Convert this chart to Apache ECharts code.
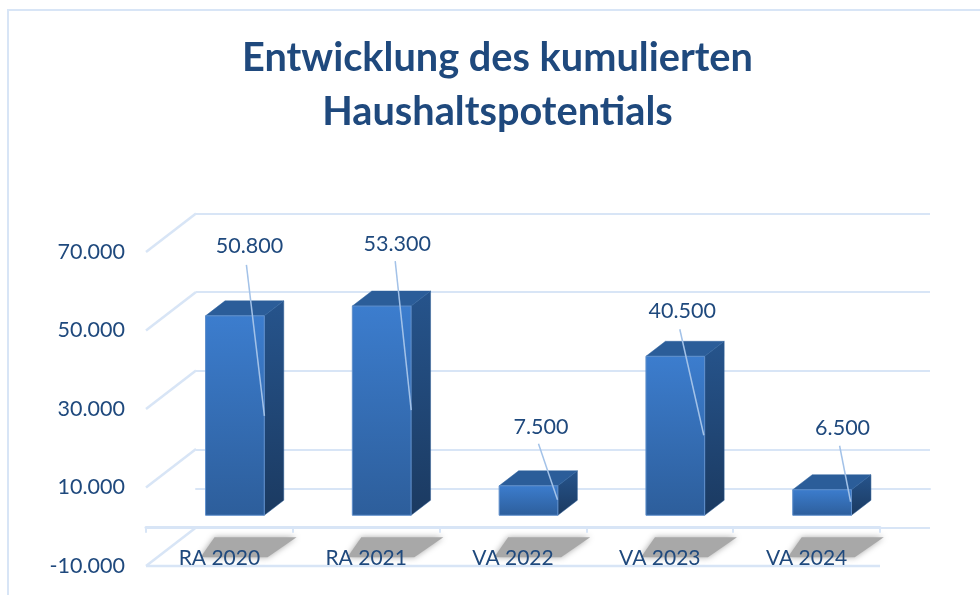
<!DOCTYPE html>
<html>
<head>
<meta charset="utf-8">
<style>
  html, body { margin: 0; padding: 0; background: #fff; }
  #chart { width: 980px; height: 595px; }
</style>
<script src="https://cdn.jsdelivr.net/npm/echarts@6/dist/echarts.min.js"></script>
</head>
<body>
<div id="chart"></div>
<script>
const titleText = 'Entwicklung des kumulierten\nHaushaltspotentials'
const categories = ['RA 2020', 'RA 2021', 'VA 2022', 'VA 2023', 'VA 2024']
const values = [50800, 53300, 7500, 40500, 6500]
const yTicks = [-10000, 10000, 30000, 50000, 70000]

// where each data label and its leader sit, relative to the bar's top centre
const labelOffsets = [[14.5, -70], [15.5, -62], [12.5, -59], [7, -45], [20.5, -62]]
const leaderStarts = [[11.5, -51], [13.5, -45], [10, -42], [4.5, -27], [17.5, -44]]
const leaderEnds = [[29.5, 100], [29.5, 104], [29, 14], [28.5, 79], [28.5, 12]]

const FONT = 'Lato'
const TEXT_COLOR = '#1f497d'
const LINE_COLOR = '#d8e5f6'

// the back wall sits this far behind the front plane
const WALL_DX = 50
const WALL_DY = -38.5
// the bars sit this far behind the front plane
const BAR_DX = 15.5
const BAR_DY = -11.5
const BAR_DEPTH_X = 19.5
const BAR_DEPTH_Y = -15

const chart = echarts.init(document.getElementById('chart'))

const fmt = v => String(v).replace(/\B(?=(\d{3})+$)/g, '.')
const vGrad = (a, b) => new echarts.graphic.LinearGradient(0, 0, 0, 1, [
  { offset: 0, color: a },
  { offset: 1, color: b }
])

function renderWall(params, api) {
  const v = api.value(1)
  const sys = params.coordSys
  const y = api.coord([0, v])[1]
  const style = { stroke: LINE_COLOR, lineWidth: 2.5, fill: null }
  const children = [{
    type: 'line',
    shape: { x1: sys.x, y1: y, x2: sys.x + WALL_DX, y2: y + WALL_DY },
    style
  }]
  if (v === yTicks[0]) {
    children.push({
      type: 'line',
      shape: { x1: sys.x, y1: y, x2: sys.x + sys.width, y2: y },
      style
    })
  }
  return { type: 'group', children }
}

function renderShadow(params, api) {
  const c = api.coord([api.value(0), 0])
  const w = api.size([1, 0])[0] * 0.4
  const x = c[0] + BAR_DX - w / 2
  const y = c[1] + BAR_DY
  return {
    type: 'polygon',
    shape: {
      points: [
        [x + 9, y + 22],
        [x + 91, y + 22],
        [x + 62, y + 42],
        [x - 5, y + 42]
      ]
    },
    style: { fill: '#a8a8a8', shadowBlur: 6, shadowColor: '#a8a8a8' }
  }
}

function renderBar(params, api) {
  const i = api.value(0)
  const top = api.coord([i, api.value(1)])
  const base = api.coord([i, 0])
  const w = api.size([1, 0])[0] * 0.4
  const cx = top[0] + BAR_DX
  const x0 = cx - w / 2
  const x1 = cx + w / 2
  const y0 = top[1] + BAR_DY
  const y1 = base[1] + BAR_DY
  const dx = BAR_DEPTH_X
  const dy = BAR_DEPTH_Y
  const off = labelOffsets[i]
  const from = leaderStarts[i]
  const to = leaderEnds[i]
  return {
    type: 'group',
    children: [
      {
        type: 'polygon',
        shape: { points: [[x1, y0], [x1 + dx, y0 + dy], [x1 + dx, y1 + dy], [x1, y1]] },
        style: { fill: vGrad('#26548c', '#1b3a61'), stroke: '#2d5c95', lineWidth: 0.5 }
      },
      {
        type: 'polygon',
        shape: { points: [[x0, y0], [x0 + dx, y0 + dy], [x1 + dx, y0 + dy], [x1, y0]] },
        style: { fill: '#2b5d99', stroke: '#2f639f', lineWidth: 0.5 }
      },
      {
        type: 'rect',
        shape: { x: x0, y: y0, width: w, height: y1 - y0 },
        style: { fill: vGrad('#3c7dce', '#2d5e9b'), stroke: '#5f8fcb', lineWidth: 1 }
      },
      {
        type: 'line',
        shape: { x1: cx + from[0], y1: y0 + from[1], x2: cx + to[0], y2: y0 + to[1] },
        style: { stroke: '#a3c2e8', lineWidth: 1.5, fill: null }
      },
      {
        type: 'text',
        x: cx + off[0],
        y: y0 + off[1],
        style: {
          text: fmt(api.value(1)),
          fill: TEXT_COLOR,
          font: '21.5px ' + FONT,
          align: 'center',
          verticalAlign: 'middle'
        }
      }
    ]
  }
}

const option = {
  animation: false,
  backgroundColor: '#ffffff',
  textStyle: { fontFamily: FONT },
  title: {
    text: titleText,
    left: 492.5,
    top: 26,
    textAlign: 'center',
    textStyle: {
      color: TEXT_COLOR,
      fontFamily: FONT,
      fontSize: 39.7,
      fontWeight: 'bold',
      lineHeight: 54
    }
  },
  graphic: [{
    type: 'rect',
    z: -10,
    shape: { x: 8, y: 10, width: 1000, height: 640 },
    style: { fill: null, stroke: LINE_COLOR, lineWidth: 2 }
  }],
  grid: [
    // front plane, carries the labels
    { left: 146, right: 100, top: 252, bottom: 29, outerBoundsMode: 'none' },
    // back wall
    { left: 196, right: 50, top: 213.5, bottom: 67, outerBoundsMode: 'none' }
  ],
  xAxis: [
    {
      type: 'category',
      gridIndex: 0,
      data: categories,
      z: 10,
      axisLine: { onZero: true, lineStyle: { color: LINE_COLOR, width: 3 } },
      axisTick: { show: true, length: 6, lineStyle: { color: LINE_COLOR, width: 2 } },
      axisLabel: { color: TEXT_COLOR, fontFamily: FONT, fontSize: 21, margin: -18, interval: 0 }
    },
    {
      type: 'category',
      gridIndex: 1,
      data: categories,
      axisLine: { onZero: true, lineStyle: { color: LINE_COLOR, width: 2 } },
      axisTick: { show: false },
      axisLabel: { show: false }
    }
  ],
  yAxis: [
    {
      type: 'value',
      gridIndex: 0,
      min: -10000,
      max: 70000,
      interval: 20000,
      axisLine: { show: false },
      axisTick: { show: false },
      splitLine: { show: false },
      axisLabel: {
        color: TEXT_COLOR,
        fontFamily: FONT,
        fontSize: 21.5,
        margin: 21,
        padding: [6, 0, 0, 0],
        formatter: fmt
      }
    },
    {
      type: 'value',
      gridIndex: 1,
      min: -10000,
      max: 70000,
      interval: 20000,
      axisLine: { show: false },
      axisTick: { show: false },
      axisLabel: { show: false },
      splitLine: { show: true, lineStyle: { color: LINE_COLOR, width: 2 } }
    }
  ],
  series: [
    {
      type: 'custom',
      name: 'wall',
      xAxisIndex: 0,
      yAxisIndex: 0,
      z: 1,
      silent: true,
      renderItem: renderWall,
      data: yTicks.map(v => [0, v])
    },
    {
      type: 'custom',
      name: 'shadow',
      xAxisIndex: 0,
      yAxisIndex: 0,
      z: 1,
      silent: true,
      renderItem: renderShadow,
      data: values.map((v, i) => [i, v])
    },
    {
      type: 'custom',
      name: 'Haushaltspotential',
      xAxisIndex: 0,
      yAxisIndex: 0,
      z: 3,
      renderItem: renderBar,
      data: values.map((v, i) => [i, v])
    }
  ]
}

chart.setOption(option)
</script>
</body>
</html>
